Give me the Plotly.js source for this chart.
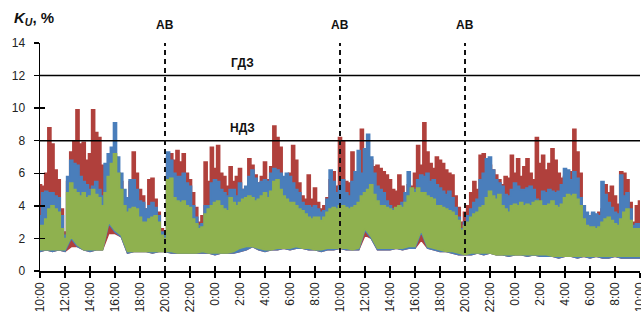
<!DOCTYPE html>
<html>
<head>
<meta charset="utf-8">
<script src="https://cdn.plot.ly/plotly-3.0.1.min.js"></script>
<style>html,body{margin:0;padding:0;background:#fff;}#chart{width:641px;height:316px;}</style>
</head>
<body>
<div id="chart"></div>
<script>
// Time axis: hours elapsed since 10:00 of day 1
const HIGH_STEP_H = 0.25;   // sampling step of the upper envelopes
const LOW_STEP_H = 0.5;     // sampling step of the lower envelopes

const tickHours = [0,2,4,6,8,10,12,14,16,18,20,22,24,26,28,30,32,34,36,38,40,42,44,46,48];
const tickLabels = ["10:00","12:00","14:00","16:00","18:00","20:00","22:00","0:00","2:00","4:00","6:00","8:00",
                    "10:00","12:00","14:00","16:00","18:00","20:00","22:00","0:00","2:00","4:00","6:00","8:00","10:00"];
const yTicks = [0,2,4,6,8,10,12,14];

// Limits (ГДЗ / НДЗ) and switching events (АВ)
const limitValues = [12, 8];
const limitLabels = ["ГДЗ", "НДЗ"];
const limitLabelHour = 16.2;
const eventHours = [10, 24, 34];
const eventLabel = "АВ";

// K_U, % — upper envelopes (every 0.25 h)
const redHigh = [
5.3,5.2,6.0,8.8,7.8,6.2,5.6,3.8, 2.4,5.5,7.3,8.0,9.9,7.8,7.9,6.8,
7.2,9.9,8.5,8.2,6.5,4.5,5.0,5.5, 7.0,6.0,5.5,4.5,4.5,5.5,7.3,6.0,
5.0,4.6,3.8,5.6,5.7,4.4,3.6,2.6, 2.4,7.0,7.2,6.8,7.4,6.7,7.2,6.0,
5.6,4.8,3.9,3.0,3.4,6.7,5.5,7.6, 6.3,7.7,6.0,5.8,5.2,6.4,5.5,5.8,
6.3,5.0,4.7,6.9,6.5,5.9,5.4,5.8, 6.7,5.6,6.4,8.9,8.2,7.6,5.4,5.5,
6.0,7.7,6.8,5.4,4.6,4.4,5.9,4.4, 5.1,4.2,3.8,4.0,4.5,5.6,6.1,5.2,
8.2,8.0,5.5,5.4,7.3,6.0,5.5,8.7, 7.0,6.5,6.8,6.4,6.5,6.3,6.1,5.9,
5.6,5.0,4.9,5.9,5.2,4.8,5.3,5.2, 6.0,7.7,6.5,9.1,7.3,6.6,6.3,7.0,
6.8,6.6,6.2,6.0,5.9,4.6,3.9,3.0, 3.6,4.0,4.8,5.5,5.0,7.1,7.2,6.8,
6.5,6.2,5.9,5.6,5.3,5.8,5.7,7.1, 6.0,6.9,5.8,6.4,6.9,6.0,5.6,8.2,
6.6,7.1,6.2,6.6,7.5,6.8,6.0,5.7, 5.8,5.9,6.1,8.7,7.3,6.0,4.0,3.3,
3.2,3.5,3.4,3.6,3.8,5.3,4.8,5.2, 4.6,4.1,6.1,6.0,5.6,4.2,3.0,4.0,
4.3];
const blueHigh = [
3.4,4.8,4.9,4.8,4.8,4.6,4.5,3.4, 2.2,5.8,6.8,6.6,6.5,5.8,5.5,5.3,
5.0,5.2,5.5,5.0,4.6,6.6,7.2,7.6, 9.1,7.0,6.0,5.0,4.5,5.6,5.6,5.0,
4.3,4.2,3.8,4.0,4.2,3.9,3.4,2.4, 2.2,7.3,6.8,6.0,5.8,5.8,6.0,5.4,
5.2,4.0,3.3,2.8,2.9,4.0,4.0,5.4, 5.6,5.5,5.0,4.8,4.6,5.0,5.0,4.6,
5.4,5.0,5.2,5.8,6.2,5.7,5.4,5.5, 5.6,5.5,6.0,6.3,6.2,6.0,5.8,6.0,
5.8,5.4,5.0,4.8,4.2,4.0,4.0,3.9, 4.0,3.8,3.6,3.7,4.4,6.2,5.5,4.8,
5.2,5.6,4.8,4.6,5.5,6.1,7.4,6.0, 7.5,8.4,7.0,6.0,5.2,5.0,4.8,4.3,
4.0,3.8,3.7,4.0,4.2,4.8,6.1,5.0, 5.0,5.6,5.9,5.8,6.0,5.5,5.6,5.3,
5.1,4.9,4.7,4.9,4.5,3.9,3.3,2.6, 3.0,3.4,3.8,4.2,4.4,5.6,6.0,6.9,
7.0,6.2,5.6,5.4,5.2,4.7,4.6,5.0, 5.4,5.2,5.0,5.0,5.1,5.2,5.0,4.4,
4.0,4.9,4.8,5.0,4.9,4.8,4.9,5.3, 6.3,6.2,5.6,6.1,5.7,4.5,4.0,3.6,
3.4,3.6,3.5,3.4,5.5,4.7,4.2,3.9, 3.6,3.5,5.9,4.6,4.8,3.8,2.8,2.9,
2.9];
const greenHigh = [
2.8,2.8,3.2,3.8,4.0,3.8,3.6,2.6, 2.0,4.8,5.4,5.0,4.8,4.6,4.8,4.5,
4.6,5.0,4.7,4.5,4.0,4.8,5.8,6.6, 7.2,6.0,5.0,4.0,3.6,3.8,3.9,3.8,
3.3,3.0,3.0,3.2,3.3,3.4,3.0,2.2, 2.0,5.6,5.7,4.5,4.3,4.2,4.3,4.0,
3.9,3.2,2.9,2.6,2.7,3.5,3.8,4.0, 4.2,4.3,4.0,3.8,3.7,4.5,4.2,4.0,
4.2,4.4,4.5,4.6,4.5,4.3,4.4,4.6, 4.8,4.5,4.9,5.5,5.6,5.0,4.6,4.4,
4.2,4.2,4.0,3.8,3.7,3.5,3.3,3.2, 3.3,3.3,3.1,3.3,3.6,3.8,3.9,3.8,
4.0,4.0,3.9,3.8,3.9,4.0,4.2,4.6, 4.8,5.0,5.3,4.7,4.3,4.0,4.0,3.9,
3.8,3.7,3.9,4.0,3.9,4.2,4.6,5.1, 4.8,5.1,4.8,4.8,4.6,4.5,4.4,4.0,
4.0,3.9,3.8,3.7,3.6,3.4,3.1,2.5, 2.8,3.0,3.3,3.5,3.6,3.9,4.0,4.5,
4.9,4.6,4.4,4.7,4.0,3.8,3.6,4.0, 4.1,4.0,4.2,4.0,4.1,4.0,4.2,4.3,
4.3,4.0,4.0,4.1,4.3,4.0,3.9,4.1, 4.5,4.7,4.6,4.7,4.4,4.0,3.2,2.8,
2.7,2.7,2.6,2.7,3.0,3.2,3.3,3.1, 2.9,2.8,3.2,3.6,3.8,3.1,2.6,2.6,
2.6];

// lower envelopes (every 0.5 h)
const redLow = [
1.2,1.3,1.2,1.3,1.2,1.5,1.5,1.3, 1.2,1.3,1.3,2.3,2.3,2.1,1.1,1.2,
1.2,1.2,1.1,1.2,1.2,1.1,1.1,1.1, 1.1,1.1,1.1,1.1,1.0,1.1,1.1,1.1,
1.2,1.3,1.5,1.3,1.2,1.3,1.3,1.4, 1.3,1.4,1.4,1.3,1.3,1.2,1.3,1.3,
1.4,1.3,1.3,1.3,2.2,2.0,1.3,1.3, 1.3,1.4,1.3,1.4,1.4,1.9,1.4,1.3,
1.2,1.2,1.1,1.0,1.0,1.0,1.1,1.0, 1.1,1.0,1.0,0.9,1.0,1.0,0.9,1.0,
0.9,0.9,0.9,0.8,0.9,0.9,0.8,0.9, 0.8,0.9,0.8,0.8,0.9,0.8,0.8,0.8,
0.8];
const blueLow = [
1.2,1.3,1.2,1.3,1.2,2.0,1.5,1.3, 1.2,1.3,1.3,2.9,2.4,2.1,1.1,1.2,
1.2,1.2,1.1,1.2,1.2,1.1,1.1,1.1, 1.1,1.1,1.1,1.1,1.0,1.1,1.1,1.1,
1.2,1.3,1.5,1.3,1.2,1.3,1.3,1.4, 1.3,1.4,1.4,1.3,1.3,1.2,1.3,1.3,
1.4,1.3,1.3,1.3,2.5,2.0,1.3,1.3, 1.3,1.4,1.3,1.4,1.4,2.4,1.4,1.3,
1.2,1.2,1.1,1.0,1.0,1.0,1.1,1.0, 1.1,1.0,1.0,0.9,1.0,1.0,0.9,1.0,
0.9,0.9,0.9,0.8,0.9,0.9,0.8,0.9, 0.8,0.9,0.8,0.8,0.9,0.8,0.8,0.8,
0.8];
const greenLow = [
1.3,1.3,1.3,1.3,1.3,2.1,1.6,1.3, 1.3,1.3,1.3,3.0,2.5,2.2,1.2,1.2,
1.2,1.2,1.2,1.2,1.2,1.2,1.1,1.1, 1.1,1.1,1.2,1.1,1.1,1.1,1.1,1.2,
1.4,1.5,1.5,1.4,1.3,1.3,1.4,1.4, 1.4,1.5,1.4,1.4,1.3,1.3,1.4,1.4,
1.4,1.4,1.3,1.4,2.6,2.1,1.4,1.4, 1.4,1.4,1.4,1.5,1.5,2.5,1.5,1.4,
1.3,1.2,1.2,1.1,1.0,1.1,1.1,1.1, 1.1,1.0,1.0,1.0,1.0,1.0,1.0,1.0,
1.0,1.0,0.9,0.9,0.9,0.9,0.9,0.9, 0.9,0.9,0.9,0.9,0.9,0.9,0.9,0.9,
0.9];

const seriesColors = {red: "#B0403C", blue: "#4A7EBB", green: "#8FB14F"};

const tHigh = redHigh.map((_, i) => i * HIGH_STEP_H);
const tLow = redLow.map((_, i) => i * LOW_STEP_H);

function band(low, high, color) {
  return [
    {x: tLow, y: low, type: "scatter", mode: "lines", line: {color: color, width: 1.5}, hoverinfo: "skip", showlegend: false},
    {x: tHigh, y: high, type: "scatter", mode: "lines", fill: "tonexty", fillcolor: color, line: {color: color, width: 1.5, shape: "hvh"}, hoverinfo: "skip", showlegend: false}
  ];
}

const traces = [].concat(
  band(redLow, redHigh, seriesColors.red),
  band(blueLow, blueHigh, seriesColors.blue),
  band(greenLow, greenHigh, seriesColors.green),
  [{x: [], y: [], xaxis: "x2", yaxis: "y2", type: "scatter", mode: "lines", showlegend: false, hoverinfo: "skip"}]
);

const FONT = "Liberation Sans, Arial, sans-serif";
const shapes = [];
limitValues.forEach(v => shapes.push({type: "line", xref: "paper", yref: "y", x0: 0, x1: 1, y0: v, y1: v, line: {color: "#000", width: 1.5}, layer: "above"}));
eventHours.forEach(h => shapes.push({type: "line", xref: "x", yref: "y", x0: h, x1: h, y0: 0, y1: yTicks[yTicks.length - 1], line: {color: "#111", width: 2, dash: "5px,4px"}, layer: "above"}));

const annotations = [];
limitValues.forEach((v, i) => annotations.push({x: limitLabelHour, y: v, xref: "x", yref: "y", text: "<b>" + limitLabels[i] + "</b>", showarrow: false, yanchor: "bottom", yshift: 4, font: {family: FONT, size: 12, color: "#111"}}));
eventHours.forEach(h => annotations.push({x: h, y: yTicks[yTicks.length - 1], xref: "x", yref: "y", text: "<b>" + eventLabel + "</b>", showarrow: false, yanchor: "bottom", yshift: 9, font: {family: FONT, size: 12, color: "#111"}}));

const layout = {
  width: 641, height: 316,
  margin: {l: 40, r: 1, t: 43, b: 45, pad: 0},
  paper_bgcolor: "#fff", plot_bgcolor: "#fff",
  font: {family: FONT, size: 12, color: "#222"},
  title: {text: "<b><i>K</i><sub><i>U</i></sub>, %</b>", x: 14 / 641, xanchor: "left", xref: "container", y: 1 - 18 / 316, yanchor: "middle", yref: "container", font: {family: FONT, size: 15, color: "#111"}},
  xaxis: {range: [0, 48], tickvals: tickHours, ticktext: tickLabels, tickangle: -90, ticks: "outside", ticklen: 5, tickwidth: 1.5, tickcolor: "#000",
          ticklabeloverflow: "allow",
          showline: true, linecolor: "#000", linewidth: 1.5, showgrid: false, zeroline: false, tickfont: {family: FONT, size: 12, color: "#222"}, fixedrange: true},
  yaxis: {range: [0, 14], tickvals: yTicks, ticks: "outside", ticklen: 5, tickwidth: 1.5, tickcolor: "#000", ticklabelstandoff: 6,
          showline: true, linecolor: "#000", linewidth: 1.5, showgrid: false, zeroline: false, tickfont: {family: FONT, size: 12, color: "#222"}, fixedrange: true},
  xaxis2: {overlaying: "x", side: "bottom", range: [0, 48], tickvals: tickHours, ticks: "inside", ticklen: 5, tickwidth: 1.5, tickcolor: "#000",
           showticklabels: false, showline: false, showgrid: false, zeroline: false, fixedrange: true},
  yaxis2: {overlaying: "y", side: "left", range: [0, 14], tickvals: yTicks, ticks: "inside", ticklen: 5, tickwidth: 1.5, tickcolor: "#000",
           showticklabels: false, showline: false, showgrid: false, zeroline: false, fixedrange: true},
  shapes: shapes,
  annotations: annotations,
  showlegend: false
};

Plotly.newPlot("chart", traces, layout, {staticPlot: true, displayModeBar: false});
</script>
</body>
</html>
